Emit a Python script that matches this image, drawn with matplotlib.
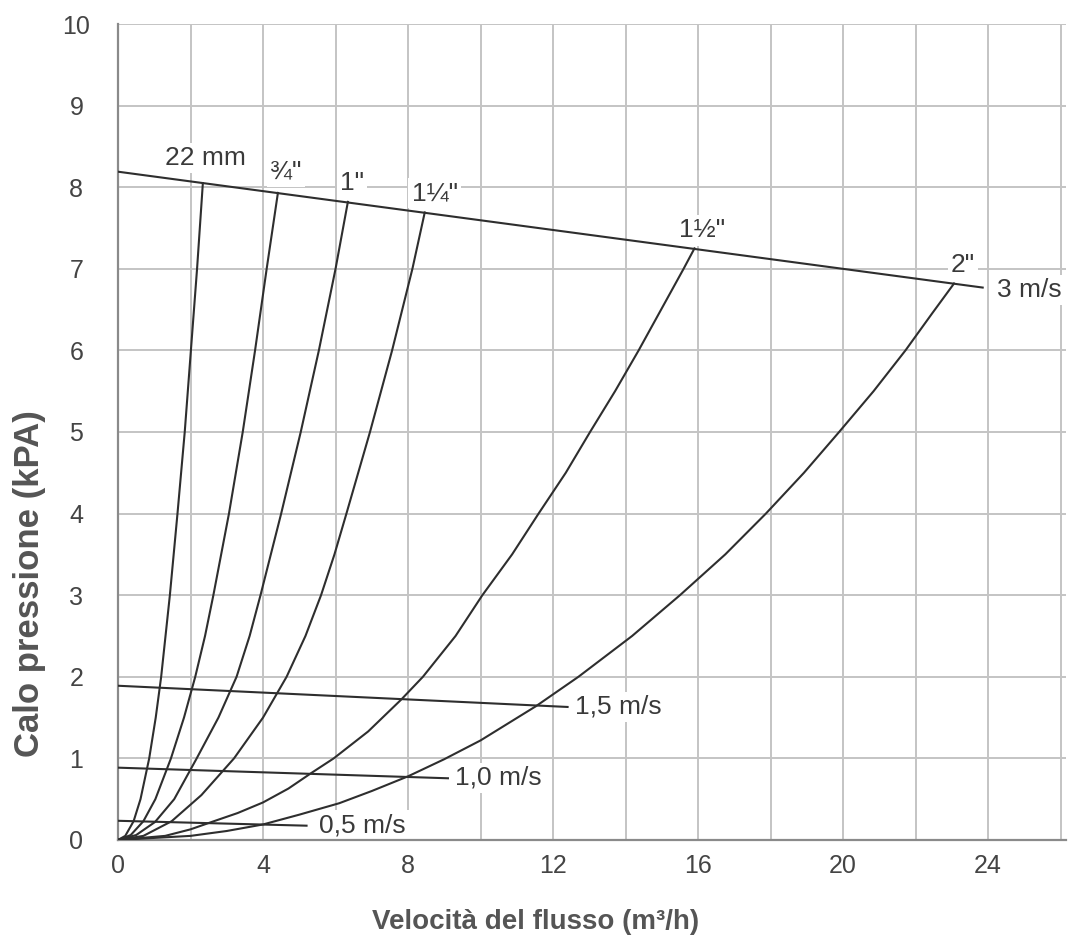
import matplotlib
matplotlib.use("Agg")
import matplotlib.pyplot as plt

# axis ticks
X_TICKS = [0, 4, 8, 12, 16, 20, 24]
Y_TICKS = [0, 1, 2, 3, 4, 5, 6, 7, 8, 9, 10]

# pipe curves: flow (m3/h) vs pressure drop (kPa)
PIPE_LABELS = ['22 mm', '¾"', '1"', '1¼"', '1½"', '2"']

FLOW_22MM = [0, 0.2, 0.43, 0.62, 0.86, 1.04, 1.19, 1.43, 1.64, 1.84, 2.01, 2.18, 2.34]
PRESS_22MM = [0, 0.05, 0.23, 0.5, 1.0, 1.5, 2.0, 3.0, 4.0, 5.0, 6.0, 7.0, 8.05]

FLOW_34 = [0, 0.35, 0.7, 1.03, 1.46, 1.82, 2.13, 2.4, 2.63, 3.06, 3.44, 3.78, 4.1, 4.41]
PRESS_34 = [0, 0.06, 0.23, 0.5, 1.0, 1.5, 2.0, 2.5, 3.0, 4.0, 5.0, 6.0, 7.0, 7.93]

FLOW_1 = [0, 0.5, 1.02, 1.55, 2.17, 2.77, 3.27, 3.63, 3.93, 4.5, 5.04, 5.54, 6.0, 6.34]
PRESS_1 = [0, 0.06, 0.22, 0.5, 1.0, 1.5, 2.0, 2.5, 3.0, 4.0, 5.0, 6.0, 7.0, 7.82]

FLOW_114 = [0, 0.7, 1.48, 2.3, 3.2, 4.0, 4.65, 5.17, 5.6, 5.97, 6.3, 6.95, 7.56, 8.12, 8.46]
PRESS_114 = [0, 0.05, 0.23, 0.55, 1.0, 1.5, 2.0, 2.5, 3.0, 3.5, 4.0, 5.0, 6.0, 7.0, 7.69]

FLOW_112 = [0, 1.3, 2.0, 2.58, 3.3, 4.0, 4.7, 5.33, 5.95, 6.9, 7.81, 8.41, 9.31, 10.05,
            10.87, 11.6, 12.35, 13.02, 13.71, 14.36, 14.98, 15.6, 15.9]
PRESS_112 = [0, 0.05, 0.13, 0.22, 0.33, 0.46, 0.63, 0.82, 1.0, 1.33, 1.72, 2.0, 2.5, 3.0,
             3.5, 4.0, 4.5, 5.0, 5.5, 6.0, 6.5, 7.0, 7.25]

FLOW_2 = [0, 2.0, 3.0, 4.0, 5.0, 6.1, 7.0, 8.0, 9.0, 10.0, 11.53, 12.7, 14.18, 15.5,
          16.75, 17.87, 18.92, 19.89, 20.84, 21.72, 22.45, 23.06]
PRESS_2 = [0, 0.05, 0.11, 0.19, 0.31, 0.45, 0.6, 0.78, 0.99, 1.22, 1.64, 2.0, 2.5, 3.0,
           3.5, 4.0, 4.5, 5.0, 5.5, 6.0, 6.45, 6.82]

# constant speed lines
SPEED_LABELS = ['3 m/s', '1,5 m/s', '1,0 m/s', '0,5 m/s']
SPEED_FLOW = [[0, 23.85], [0, 12.4], [0, 9.1], [0, 5.2]]
SPEED_PRESS = [[8.19, 6.77], [1.89, 1.63], [0.886, 0.756], [0.235, 0.175]]

# where the labels sit (data coords)
PIPE_LABEL_XY = [(2.4, 8.36), (4.63, 8.19), (6.46, 8.05), (8.73, 7.93), (16.1, 7.47), (23.3, 7.05)]
SPEED_LABEL_XY = [(24.25, 6.74), (12.6, 1.63), (9.3, 0.76), (5.55, 0.18)]

LINE_COLOR = '#2e2e2e'
TEXT_COLOR = '#3a3a3a'


def main():
    plt.rcParams['font.family'] = ['Liberation Sans', 'DejaVu Sans']

    fig = plt.figure(figsize=(10.71, 9.49), dpi=100)
    ax = fig.add_axes([0.1102, 0.1149, 0.8852, 0.8598])

    curves = [(FLOW_22MM, PRESS_22MM), (FLOW_34, PRESS_34), (FLOW_1, PRESS_1),
              (FLOW_114, PRESS_114), (FLOW_112, PRESS_112), (FLOW_2, PRESS_2)]
    for (q, p) in curves:
        ax.plot(q, p, color=LINE_COLOR, lw=1.5, solid_joinstyle='round', zorder=3)

    for q, p in zip(SPEED_FLOW, SPEED_PRESS):
        ax.plot(q, p, color=LINE_COLOR, lw=1.5, zorder=3)

    box = dict(boxstyle='square,pad=0.12', fc='white', ec='none')
    for lab, (x, y) in zip(PIPE_LABELS, PIPE_LABEL_XY):
        ax.text(x, y, lab, ha='center', va='center', fontsize=19,
                color=TEXT_COLOR, bbox=box, zorder=2, clip_on=False)
    for lab, (x, y) in zip(SPEED_LABELS, SPEED_LABEL_XY):
        ax.text(x, y, lab, ha='left', va='center', fontsize=19,
                color=TEXT_COLOR, bbox=box, zorder=2, clip_on=False)

    ax.set_xlim(0, 26.15)
    ax.set_ylim(0, 10)
    ax.set_xticks(X_TICKS)
    ax.set_yticks(Y_TICKS)
    ax.set_xticks(range(0, 27, 2), minor=True)
    ax.grid(True, which='both', axis='x', color='#c4c4c4', lw=1.4)
    ax.grid(True, which='major', axis='y', color='#c4c4c4', lw=1.4)
    ax.set_axisbelow(True)

    for side in ['top', 'right']:
        ax.spines[side].set_visible(False)
    for side in ['left', 'bottom']:
        ax.spines[side].set_color('#8a8a8a')
        ax.spines[side].set_linewidth(1.6)

    ax.tick_params(axis='both', which='both', length=0, labelsize=18, labelcolor='#444444')
    ax.tick_params(axis='x', pad=10)
    ax.tick_params(axis='y', pad=30)
    for lab in ax.get_yticklabels():
        lab.set_horizontalalignment('center')

    fig.text(0.028, 0.385, 'Calo pressione (kPA)', rotation=90, ha='center', va='center',
             fontsize=25, fontweight='bold', color='#555555')
    fig.text(0.5, 0.015, 'Velocità del flusso (m³/h)', ha='center', va='bottom',
             fontsize=20, fontweight='bold', color='#555555')

    fig.savefig('out.png', dpi=100)


if __name__ == "__main__":
    main()
